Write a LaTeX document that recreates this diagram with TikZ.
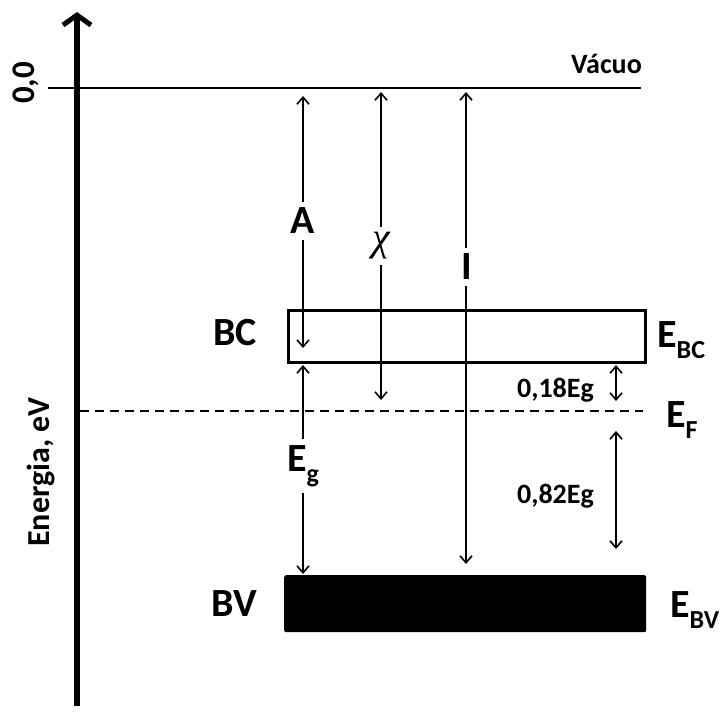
\documentclass[tikz,border=0pt]{standalone}
\usepackage{fontspec}
\setmainfont{Carlito}
\newfontfamily\chifont{Liberation Serif}
\usetikzlibrary{arrows.meta}
\newcommand{\fs}[1]{\fontsize{#1}{#1}\selectfont}
\newcommand{\lvl}[2]{E\raisebox{-0.28em}{\fs{#1}#2}}
\tikzset{
  thinarrow/.style={line width=1.6pt,{Straight Barb[length=7pt,width=12pt,line width=1.6pt]}-{Straight Barb[length=7pt,width=12pt,line width=1.6pt]}},
  big/.style={font=\fs{40}\bfseries,inner sep=0pt},
  mid/.style={font=\fs{28}\bfseries,inner sep=0pt},
  small/.style={font=\fs{28}\bfseries,inner sep=0pt},
  gaplabel/.style={fill=white,inner sep=6pt}
}
\begin{document}
\begin{tikzpicture}[x=1pt,y=-1pt]
\useasboundingbox (0,0) rectangle (722,713);
% axis
\coordinate (axb) at (77,706);
\coordinate (axt) at (77,12);
\draw[line width=6pt,-{Straight Barb[length=10pt,width=28pt,line width=5pt]}] (axb) -- (axt);
% vacuum level
\coordinate (v0) at (48,88);
\coordinate (v1) at (641,88);
\draw[line width=2pt] (v0) -- (v1);
\node[mid,anchor=base east] (vac) at (642,73) {Vácuo};
\node[font=\fs{33}\bfseries,rotate=90,inner sep=0pt] (zero) at (26,83) {0,0};
\node[font=\fs{32}\bfseries,rotate=90,inner sep=0pt] (en) at (41,472) {Energia, eV};
% conduction band
\node[draw,line width=3pt,minimum width=357pt,minimum height=52pt,inner sep=0pt,anchor=north west] (bc) at (286.5,308.5) {};
\node[big,anchor=base east] (bcl) at (257,345) {BC};
\node[big,anchor=base west] (ebc) at (657,347) {\lvl{26}{BC}};
% fermi level
\coordinate (f0) at (80,411);
\coordinate (f1) at (643,411);
\draw[line width=2pt,dash pattern=on 9pt off 6pt] (f0) -- (f1);
\node[big,anchor=base west] (ef) at (666,427) {\lvl{26}{F}};
% valence band
\node[fill=black,rounded corners=2pt,minimum width=362pt,minimum height=57pt,inner sep=0pt,anchor=north west] (bv) at (284,575) {};
\node[big,anchor=base east] (bvl) at (257,616) {BV};
\node[big,anchor=base west] (ebv) at (670,617) {\lvl{26}{BV}};
% arrows
\coordinate (a0) at (303,96);
\coordinate (a1) at (303,348);
\draw[thinarrow] (a0) -- (a1);
\node[big,gaplabel,anchor=center] (al) at (303,221) {A};
\coordinate (c0) at (381,92);
\coordinate (c1) at (381,400);
\draw[thinarrow] (c0) -- (c1);
\node[font=\fs{40}\chifont\itshape,gaplabel] (cl) at (381,246) {χ};
\coordinate (i0) at (466,92);
\coordinate (i1) at (466,564);
\draw[thinarrow] (i0) -- (i1);
\node[big,gaplabel] (il) at (467,267) {I};
\coordinate (g0) at (303,365);
\coordinate (g1) at (303,574);
\draw[thinarrow] (g0) -- (g1);
\node[big,gaplabel] (gl) at (303,466) {\lvl{26}{g}};
\coordinate (s0) at (616,365);
\coordinate (s1) at (616,401);
\draw[thinarrow] (s0) -- (s1);
\node[small,anchor=base east] (sl) at (594,397) {0,18Eg};
\coordinate (l0) at (616,431);
\coordinate (l1) at (616,549);
\draw[thinarrow] (l0) -- (l1);
\node[small,anchor=base east] (ll) at (594,503) {0,82Eg};
\end{tikzpicture}
\end{document}
